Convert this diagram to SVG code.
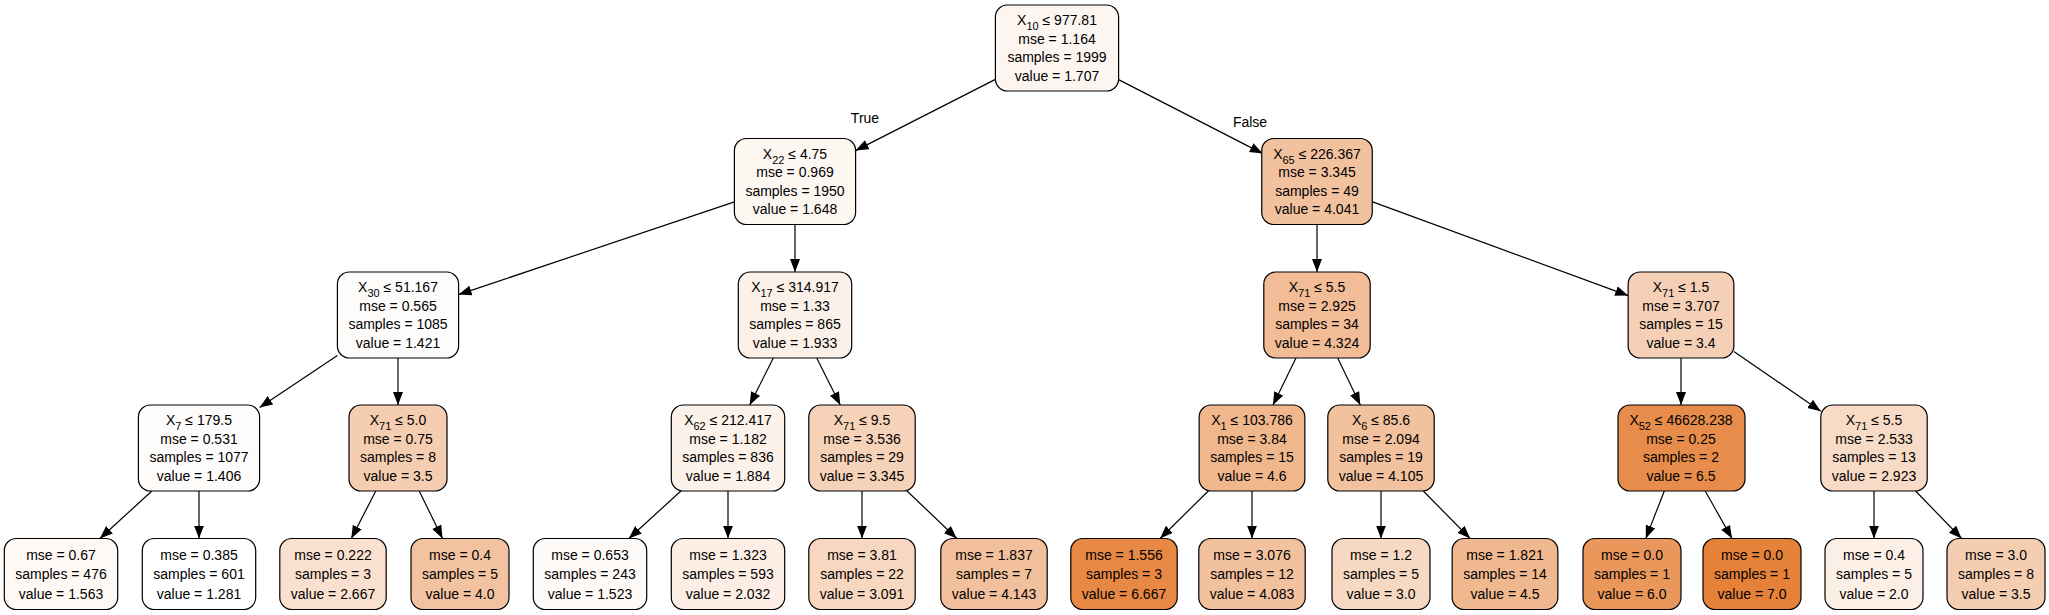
<svg xmlns="http://www.w3.org/2000/svg" width="2049" height="615" viewBox="0 0 2049 615">
<style>
.n rect{stroke:#000;stroke-width:1.2}
text{font-family:"Liberation Sans",Arial,Helvetica,sans-serif;font-size:14px;text-anchor:middle;fill:#000}
.s{font-size:11px}
.e line{stroke:#000;stroke-width:1.2;marker-end:url(#ah)}
</style>
<defs>
<marker id="ah" markerUnits="userSpaceOnUse" markerWidth="14" markerHeight="11" refX="13" refY="5" orient="auto">
<path d="M0,0 L13,5 L0,10 z" fill="#000"/>
</marker>
</defs>
<rect width="2049" height="615" fill="#fff"/>
<g id="edges" class="e">
<line x1="996.4" y1="78.9" x2="855.6" y2="150.6"/>
<line x1="1117.6" y1="79.1" x2="1262.75" y2="153.6"/>
<line x1="734.4" y1="201.9" x2="458.6" y2="294.6"/>
<line x1="795" y1="224.5" x2="795" y2="272"/>
<line x1="1317" y1="224.5" x2="1317" y2="272"/>
<line x1="1371.25" y1="201.4" x2="1628.15" y2="295.6"/>
<line x1="337.4" y1="355.5" x2="259.6" y2="407.5"/>
<line x1="398" y1="358" x2="398" y2="405"/>
<line x1="773.3" y1="358" x2="749.7" y2="405"/>
<line x1="816.7" y1="358" x2="840.3" y2="405"/>
<line x1="1296" y1="358" x2="1273" y2="405"/>
<line x1="1337.7" y1="358" x2="1360.3" y2="405"/>
<line x1="1681" y1="358" x2="1681" y2="405"/>
<line x1="1733.85" y1="351.4" x2="1820.8" y2="411.3"/>
<line x1="151.9" y1="491" x2="99.9" y2="538.5"/>
<line x1="199" y1="491" x2="199" y2="538.5"/>
<line x1="375.8" y1="491" x2="351.3" y2="538.5"/>
<line x1="419.2" y1="491" x2="442.5" y2="538.5"/>
<line x1="680.9" y1="491" x2="628.9" y2="538.5"/>
<line x1="728" y1="491" x2="728" y2="538.5"/>
<line x1="862" y1="491" x2="862" y2="538.5"/>
<line x1="907.05" y1="491" x2="956.8" y2="538.5"/>
<line x1="1208.3" y1="491" x2="1160.1" y2="538.5"/>
<line x1="1252" y1="491" x2="1252" y2="538.5"/>
<line x1="1381" y1="491" x2="1381" y2="538.5"/>
<line x1="1423.3" y1="491" x2="1470.1" y2="538.5"/>
<line x1="1664.3" y1="491" x2="1645.8" y2="538.5"/>
<line x1="1705.2" y1="491" x2="1732" y2="538.5"/>
<line x1="1874" y1="491" x2="1874" y2="538.5"/>
<line x1="1915.6" y1="491" x2="1961.6" y2="538.5"/>
<text x="865" y="123">True</text>
<text x="1250" y="126.5">False</text>
</g>
<g id="n0" class="n"><rect x="995.4" y="5" width="123.2" height="86" rx="12" fill="#fdf6f0"/>
<text x="1057" y="25.25">X<tspan class="s" dy="5">10</tspan><tspan dy="-5"> ≤ 977.81</tspan></text>
<text x="1057" y="43.75">mse = 1.164</text><text x="1057" y="62.25">samples = 1999</text><text x="1057" y="80.75">value = 1.707</text></g>
<g id="n1" class="n"><rect x="734.4" y="138.5" width="121.2" height="86" rx="12" fill="#fdf7f2"/>
<text x="795" y="158.75">X<tspan class="s" dy="5">22</tspan><tspan dy="-5"> ≤ 4.75</tspan></text>
<text x="795" y="177.25">mse = 0.969</text><text x="795" y="195.75">samples = 1950</text><text x="795" y="214.25">value = 1.648</text></g>
<g id="n2" class="n"><rect x="1261.75" y="138.5" width="110.5" height="86" rx="12" fill="#f2c29f"/>
<text x="1317" y="158.75">X<tspan class="s" dy="5">65</tspan><tspan dy="-5"> ≤ 226.367</tspan></text>
<text x="1317" y="177.25">mse = 3.345</text><text x="1317" y="195.75">samples = 49</text><text x="1317" y="214.25">value = 4.041</text></g>
<g id="n3" class="n"><rect x="337.4" y="272" width="121.2" height="86" rx="12" fill="#fefcfa"/>
<text x="398" y="292.25">X<tspan class="s" dy="5">30</tspan><tspan dy="-5"> ≤ 51.167</tspan></text>
<text x="398" y="310.75">mse = 0.565</text><text x="398" y="329.25">samples = 1085</text><text x="398" y="347.75">value = 1.421</text></g>
<g id="n4" class="n"><rect x="738.3" y="272" width="113.4" height="86" rx="12" fill="#fcf1e8"/>
<text x="795" y="292.25">X<tspan class="s" dy="5">17</tspan><tspan dy="-5"> ≤ 314.917</tspan></text>
<text x="795" y="310.75">mse = 1.33</text><text x="795" y="329.25">samples = 865</text><text x="795" y="347.75">value = 1.933</text></g>
<g id="n5" class="n"><rect x="1263.8" y="272" width="106.4" height="86" rx="12" fill="#f1bc96"/>
<text x="1317" y="292.25">X<tspan class="s" dy="5">71</tspan><tspan dy="-5"> ≤ 5.5</tspan></text>
<text x="1317" y="310.75">mse = 2.925</text><text x="1317" y="329.25">samples = 34</text><text x="1317" y="347.75">value = 4.324</text></g>
<g id="n6" class="n"><rect x="1628.15" y="272" width="105.7" height="86" rx="12" fill="#f5d0b6"/>
<text x="1681" y="292.25">X<tspan class="s" dy="5">71</tspan><tspan dy="-5"> ≤ 1.5</tspan></text>
<text x="1681" y="310.75">mse = 3.707</text><text x="1681" y="329.25">samples = 15</text><text x="1681" y="347.75">value = 3.4</text></g>
<g id="n7" class="n"><rect x="138.4" y="405" width="121.2" height="86" rx="12" fill="#fefcfb"/>
<text x="199" y="425.25">X<tspan class="s" dy="5">7</tspan><tspan dy="-5"> ≤ 179.5</tspan></text>
<text x="199" y="443.75">mse = 0.531</text><text x="199" y="462.25">samples = 1077</text><text x="199" y="480.75">value = 1.406</text></g>
<g id="n8" class="n"><rect x="349" y="405" width="98" height="86" rx="12" fill="#f5ceb2"/>
<text x="398" y="425.25">X<tspan class="s" dy="5">71</tspan><tspan dy="-5"> ≤ 5.0</tspan></text>
<text x="398" y="443.75">mse = 0.75</text><text x="398" y="462.25">samples = 8</text><text x="398" y="480.75">value = 3.5</text></g>
<g id="n9" class="n"><rect x="671.3" y="405" width="113.4" height="86" rx="12" fill="#fcf2ea"/>
<text x="728" y="425.25">X<tspan class="s" dy="5">62</tspan><tspan dy="-5"> ≤ 212.417</tspan></text>
<text x="728" y="443.75">mse = 1.182</text><text x="728" y="462.25">samples = 836</text><text x="728" y="480.75">value = 1.884</text></g>
<g id="n10" class="n"><rect x="808.8" y="405" width="106.4" height="86" rx="12" fill="#f6d2b8"/>
<text x="862" y="425.25">X<tspan class="s" dy="5">71</tspan><tspan dy="-5"> ≤ 9.5</tspan></text>
<text x="862" y="443.75">mse = 3.536</text><text x="862" y="462.25">samples = 29</text><text x="862" y="480.75">value = 3.345</text></g>
<g id="n11" class="n"><rect x="1199.15" y="405" width="105.7" height="86" rx="12" fill="#f0b68c"/>
<text x="1252" y="425.25">X<tspan class="s" dy="5">1</tspan><tspan dy="-5"> ≤ 103.786</tspan></text>
<text x="1252" y="443.75">mse = 3.84</text><text x="1252" y="462.25">samples = 15</text><text x="1252" y="480.75">value = 4.6</text></g>
<g id="n12" class="n"><rect x="1327.8" y="405" width="106.4" height="86" rx="12" fill="#f2c19d"/>
<text x="1381" y="425.25">X<tspan class="s" dy="5">6</tspan><tspan dy="-5"> ≤ 85.6</tspan></text>
<text x="1381" y="443.75">mse = 2.094</text><text x="1381" y="462.25">samples = 19</text><text x="1381" y="480.75">value = 4.105</text></g>
<g id="n13" class="n"><rect x="1618" y="405" width="127" height="86" rx="12" fill="#e78c4a"/>
<text x="1681" y="425.25">X<tspan class="s" dy="5">52</tspan><tspan dy="-5"> ≤ 46628.238</tspan></text>
<text x="1681" y="443.75">mse = 0.25</text><text x="1681" y="462.25">samples = 2</text><text x="1681" y="480.75">value = 6.5</text></g>
<g id="n14" class="n"><rect x="1820.8" y="405" width="106.4" height="86" rx="12" fill="#f8dbc6"/>
<text x="1874" y="425.25">X<tspan class="s" dy="5">71</tspan><tspan dy="-5"> ≤ 5.5</tspan></text>
<text x="1874" y="443.75">mse = 2.533</text><text x="1874" y="462.25">samples = 13</text><text x="1874" y="480.75">value = 2.923</text></g>
<g id="l1" class="n"><rect x="4.3" y="538.5" width="113.4" height="71" rx="12" fill="#fef9f5"/>
<text x="61" y="559.5">mse = 0.67</text><text x="61" y="579">samples = 476</text><text x="61" y="598.5">value = 1.563</text></g>
<g id="l2" class="n"><rect x="142.3" y="538.5" width="113.4" height="71" rx="12" fill="#ffffff"/>
<text x="199" y="559.5">mse = 0.385</text><text x="199" y="579">samples = 601</text><text x="199" y="598.5">value = 1.281</text></g>
<g id="l3" class="n"><rect x="279.8" y="538.5" width="106.4" height="71" rx="12" fill="#f9e0cf"/>
<text x="333" y="559.5">mse = 0.222</text><text x="333" y="579">samples = 3</text><text x="333" y="598.5">value = 2.667</text></g>
<g id="l4" class="n"><rect x="411" y="538.5" width="98" height="71" rx="12" fill="#f3c3a1"/>
<text x="460" y="559.5">mse = 0.4</text><text x="460" y="579">samples = 5</text><text x="460" y="598.5">value = 4.0</text></g>
<g id="l5" class="n"><rect x="533.3" y="538.5" width="113.4" height="71" rx="12" fill="#fefaf7"/>
<text x="590" y="559.5">mse = 0.653</text><text x="590" y="579">samples = 243</text><text x="590" y="598.5">value = 1.523</text></g>
<g id="l6" class="n"><rect x="671.3" y="538.5" width="113.4" height="71" rx="12" fill="#fceee5"/>
<text x="728" y="559.5">mse = 1.323</text><text x="728" y="579">samples = 593</text><text x="728" y="598.5">value = 2.032</text></g>
<g id="l7" class="n"><rect x="808.8" y="538.5" width="106.4" height="71" rx="12" fill="#f7d7c0"/>
<text x="862" y="559.5">mse = 3.81</text><text x="862" y="579">samples = 22</text><text x="862" y="598.5">value = 3.091</text></g>
<g id="l8" class="n"><rect x="940.8" y="538.5" width="106.4" height="71" rx="12" fill="#f2c09c"/>
<text x="994" y="559.5">mse = 1.837</text><text x="994" y="579">samples = 7</text><text x="994" y="598.5">value = 4.143</text></g>
<g id="l9" class="n"><rect x="1070.8" y="538.5" width="106.4" height="71" rx="12" fill="#e78845"/>
<text x="1124" y="559.5">mse = 1.556</text><text x="1124" y="579">samples = 3</text><text x="1124" y="598.5">value = 6.667</text></g>
<g id="l10" class="n"><rect x="1198.8" y="538.5" width="106.4" height="71" rx="12" fill="#f2c19e"/>
<text x="1252" y="559.5">mse = 3.076</text><text x="1252" y="579">samples = 12</text><text x="1252" y="598.5">value = 4.083</text></g>
<g id="l11" class="n"><rect x="1332" y="538.5" width="98" height="71" rx="12" fill="#f7d9c3"/>
<text x="1381" y="559.5">mse = 1.2</text><text x="1381" y="579">samples = 5</text><text x="1381" y="598.5">value = 3.0</text></g>
<g id="l12" class="n"><rect x="1452.15" y="538.5" width="105.7" height="71" rx="12" fill="#f0b88f"/>
<text x="1505" y="559.5">mse = 1.821</text><text x="1505" y="579">samples = 14</text><text x="1505" y="598.5">value = 4.5</text></g>
<g id="l13" class="n"><rect x="1583" y="538.5" width="98" height="71" rx="12" fill="#ea975c"/>
<text x="1632" y="559.5">mse = 0.0</text><text x="1632" y="579">samples = 1</text><text x="1632" y="598.5">value = 6.0</text></g>
<g id="l14" class="n"><rect x="1703" y="538.5" width="98" height="71" rx="12" fill="#e58139"/>
<text x="1752" y="559.5">mse = 0.0</text><text x="1752" y="579">samples = 1</text><text x="1752" y="598.5">value = 7.0</text></g>
<g id="l15" class="n"><rect x="1825" y="538.5" width="98" height="71" rx="12" fill="#fcefe6"/>
<text x="1874" y="559.5">mse = 0.4</text><text x="1874" y="579">samples = 5</text><text x="1874" y="598.5">value = 2.0</text></g>
<g id="l16" class="n"><rect x="1947" y="538.5" width="98" height="71" rx="12" fill="#f5ceb2"/>
<text x="1996" y="559.5">mse = 3.0</text><text x="1996" y="579">samples = 8</text><text x="1996" y="598.5">value = 3.5</text></g>
</svg>
